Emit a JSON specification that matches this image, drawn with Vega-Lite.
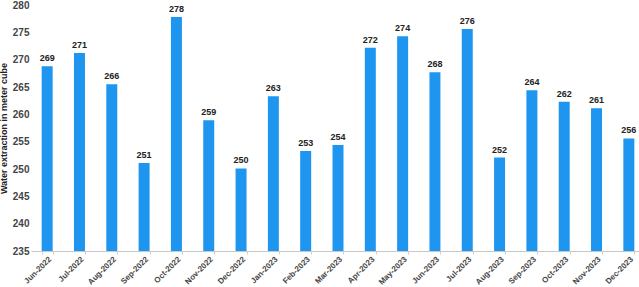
{
  "$schema": "https://vega.github.io/schema/vega-lite/v6.json",
  "autosize": "none",
  "width": 614,
  "height": 246,
  "padding": {"left": 31, "top": 5, "right": 0, "bottom": 36},
  "config": {"view": {"stroke": null}, "font": "Liberation Sans"},
  "data": {"values": [
    {"month": "Jun-2022", "value": 268.8},
    {"month": "Jul-2022", "value": 271.2},
    {"month": "Aug-2022", "value": 265.5},
    {"month": "Sep-2022", "value": 251.1},
    {"month": "Oct-2022", "value": 277.8},
    {"month": "Nov-2022", "value": 258.9},
    {"month": "Dec-2022", "value": 250.1},
    {"month": "Jan-2023", "value": 263.3},
    {"month": "Feb-2023", "value": 253.3},
    {"month": "Mar-2023", "value": 254.4},
    {"month": "Apr-2023", "value": 272.2},
    {"month": "May-2023", "value": 274.3},
    {"month": "Jun-2023", "value": 267.7},
    {"month": "Jul-2023", "value": 275.6},
    {"month": "Aug-2023", "value": 252.1},
    {"month": "Sep-2023", "value": 264.4},
    {"month": "Oct-2023", "value": 262.3},
    {"month": "Nov-2023", "value": 261.1},
    {"month": "Dec-2023", "value": 255.6}
  ]},
  "encoding": {
    "x": {"field": "month", "type": "nominal", "sort": null,
      "scale": {"paddingInner": 0.66, "paddingOuter": 0.33},
      "axis": {"title": null, "labelAngle": -45, "labelFontSize": 8, "labelFontWeight": "bold", "labelColor": "#444", "domainColor": "#c8c8c8", "tickColor": "#d0d0d0", "tickSize": 3, "tickBand": "extent", "labelPadding": 1}},
    "y": {"field": "value", "type": "quantitative",
      "scale": {"domain": [235, 280], "nice": false, "zero": false},
      "axis": {"title": "Water extraction in meter cube", "titleFontSize": 9, "titleFontWeight": "bold", "titleColor": "#222", "titlePadding": 4, "values": [235,240,245,250,255,260,265,270,275,280], "labelFontSize": 10, "labelFontWeight": "bold", "labelColor": "#444", "grid": false, "domain": false, "ticks": false, "labelPadding": 2}}
  },
  "layer": [
    {"mark": {"type": "bar", "color": "#1E96F0", "clip": true}},
    {"mark": {"type": "text", "dy": -8, "fontSize": 9, "fontWeight": "bold", "color": "#222"},
      "encoding": {"text": {"field": "value", "type": "quantitative", "format": ".0f"}}}
  ]
}
